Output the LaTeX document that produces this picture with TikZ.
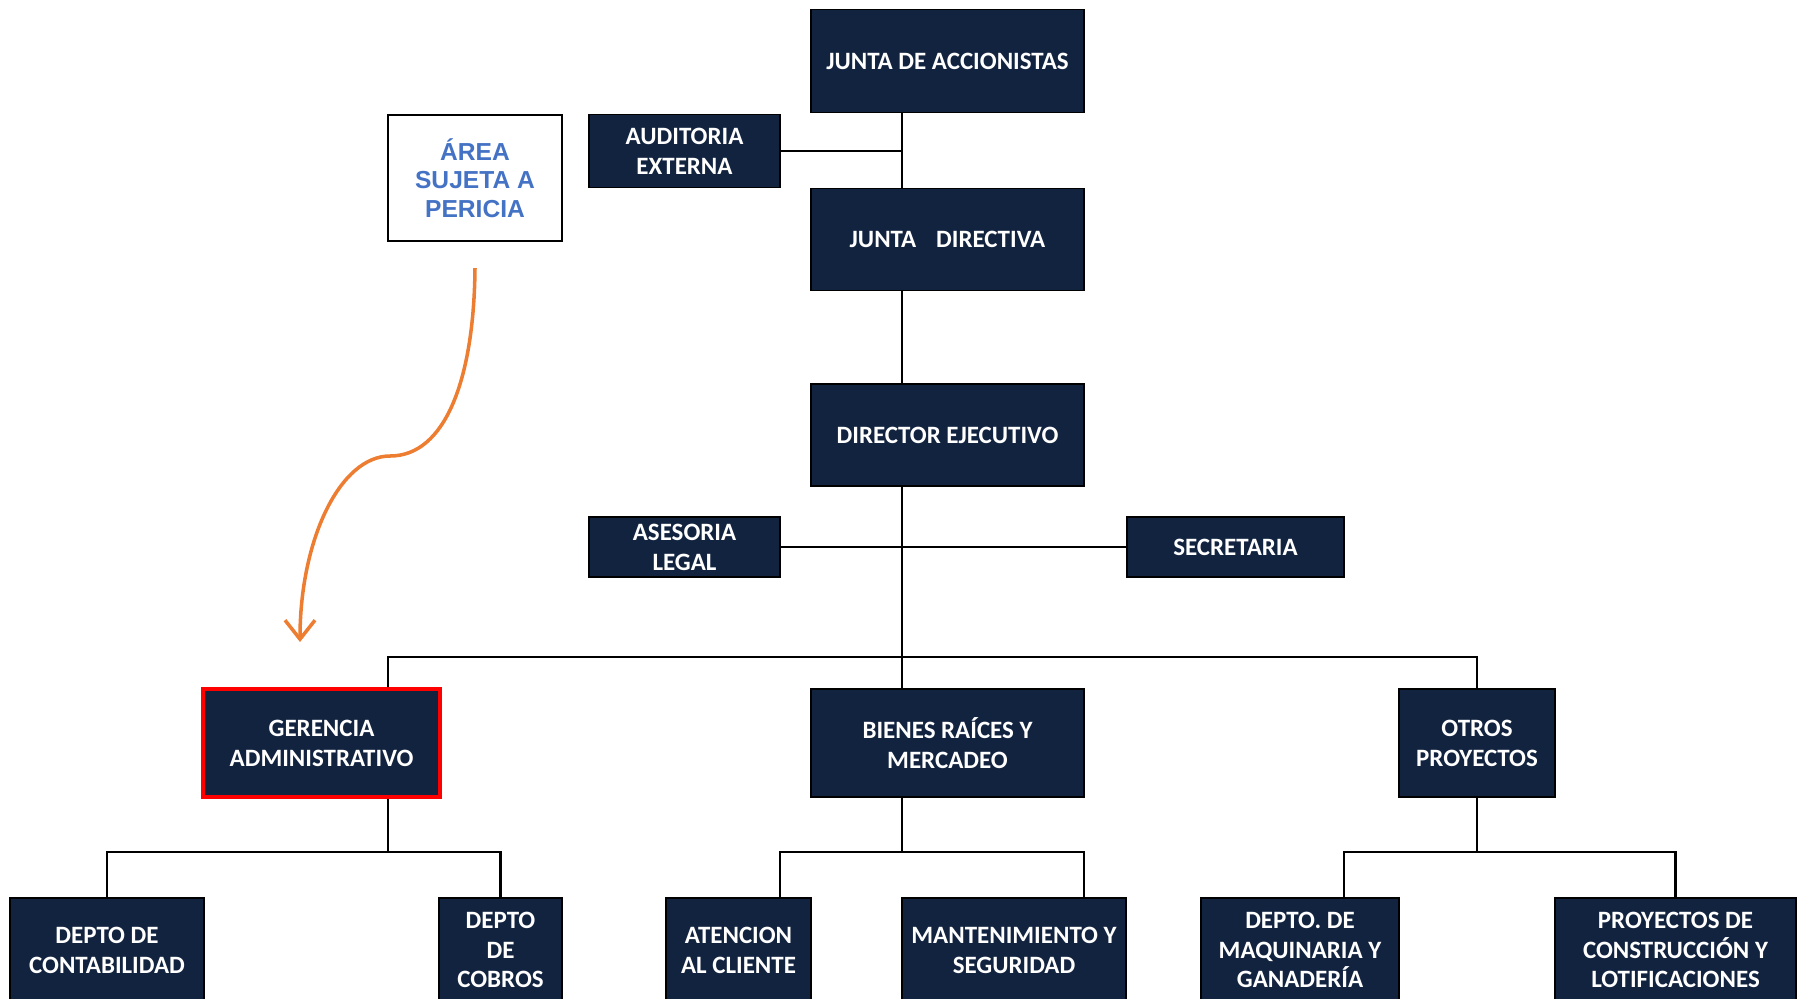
\documentclass[tikz,border=0pt]{standalone}
\usepackage{fontspec}
\setsansfont{Carlito}
\newfontfamily\areafont{Liberation Sans}
\usepackage{xcolor}
\usetikzlibrary{arrows.meta,positioning,calc}
\definecolor{navy}{RGB}{18,35,63}
\definecolor{areablue}{RGB}{68,114,196}
\definecolor{arrorange}{RGB}{237,125,49}

\begin{document}
\begin{tikzpicture}[
    >=Stealth,
    cargo/.style={draw=black, fill=navy, rectangle, inner sep=1pt,
        align=center, text=white,
        font=\fontsize{7.1}{8.5}\selectfont\sffamily\bfseries},
    pericia/.style={draw=black, line width=0.6pt, fill=white, rectangle,
        align=center, text=areablue,
        font=\fontsize{7}{8.1}\selectfont\areafont\bfseries},
    link/.style={draw=black, line width=0.6pt},
    markarrow/.style={-{Straight Barb[length=1.9mm,width=3mm]},
        line width=1pt, color=arrorange}
]
\useasboundingbox (0,0) rectangle (17.98,-9.98);

% upper levels
\node[cargo, minimum width=2.73cm, minimum height=1.03cm] (accionistas) at (9.475,-0.61) {JUNTA DE ACCIONISTAS};
\node[cargo, minimum width=1.91cm, minimum height=0.73cm] (auditoria) at (6.845,-1.51) {AUDITORIA\\EXTERNA};
\node[pericia, minimum width=1.74cm, minimum height=1.26cm] (area) at (4.75,-1.78) {ÁREA\\SUJETA A\\PERICIA};
\node[cargo, minimum width=2.73cm, minimum height=1.02cm] (directiva) at (9.475,-2.395) {JUNTA\hspace{0.8em}DIRECTIVA};
\node[cargo, minimum width=2.73cm, minimum height=1.02cm] (director) at (9.475,-4.35) {DIRECTOR EJECUTIVO};
\node[cargo, minimum width=1.91cm, minimum height=0.60cm] (asesoria) at (6.845,-5.47) {ASESORIA\\LEGAL};
\node[cargo, minimum width=2.17cm, minimum height=0.60cm] (secretaria) at (12.355,-5.47) {SECRETARIA};

% gerencias
\node[cargo, draw=red, line width=1pt, minimum width=2.37cm, minimum height=1.08cm] (gerencia) at (3.215,-7.43) {GERENCIA\\ADMINISTRATIVO};
\node[cargo, minimum width=2.73cm, minimum height=1.08cm] (bienes) at (9.475,-7.43) {BIENES RAÍCES Y\\MERCADEO};
\node[cargo, minimum width=1.56cm, minimum height=1.08cm] (otros) at (14.77,-7.43) {OTROS\\PROYECTOS};

% departamentos
\node[cargo, minimum width=1.94cm, minimum height=1.04cm] (contabilidad) at (1.07,-9.5) {DEPTO DE\\CONTABILIDAD};
\node[cargo, minimum width=1.23cm, minimum height=1.04cm] (cobros) at (5.005,-9.5) {DEPTO\\DE\\COBROS};
\node[cargo, minimum width=1.45cm, minimum height=1.04cm] (atencion) at (7.385,-9.5) {ATENCION\\AL CLIENTE};
\node[cargo, minimum width=2.24cm, minimum height=1.04cm] (mantenimiento) at (10.14,-9.5) {MANTENIMIENTO Y\\SEGURIDAD};
\node[cargo, minimum width=1.98cm, minimum height=1.04cm] (maquinaria) at (13.0,-9.5) {DEPTO. DE\\MAQUINARIA Y\\GANADERÍA};
\node[cargo, minimum width=2.41cm, minimum height=1.04cm] (construccion) at (16.755,-9.5) {PROYECTOS DE\\CONSTRUCCIÓN Y\\LOTIFICACIONES};

% bus points
\coordinate (trunk) at (9.02,-6.57);
\coordinate (busL) at (3.88,-6.57);
\coordinate (busR) at (14.77,-6.57);
\coordinate (gerdrop) at (3.88,-8.52);
\coordinate (atdrop) at (7.80,-8.52);
\coordinate (mantdrop) at (10.84,-8.52);
\coordinate (maqdrop) at (13.44,-8.52);

% connectors
\draw[link] (accionistas.south -| trunk) -- (directiva.north -| trunk);
\draw[link] (auditoria.east) -- (auditoria.east -| trunk);
\draw[link] (directiva.south -| trunk) -- (director.north -| trunk);
\draw[link] (director.south -| trunk) -- (trunk);
\draw[link] (asesoria.east) -- (secretaria.west);
\draw[link] (gerencia.north -| busL) -- (busL) -- (busR) -- (otros.north);
\draw[link] (trunk) -- (bienes.north -| trunk);

\draw[link] (gerencia.south -| gerdrop) -- (gerdrop);
\draw[link] (contabilidad.north) |- (gerdrop) -| (cobros.north);
\draw[link] (bienes.south -| trunk) -- (trunk |- atdrop);
\draw[link] (atencion.north -| atdrop) -- (atdrop) -- (mantdrop) -- (mantenimiento.north -| mantdrop);
\draw[link] (otros.south) -- (otros.south |- maqdrop);
\draw[link] (maquinaria.north -| maqdrop) -- (maqdrop) -| (construccion.north);

% area sujeta a pericia
\coordinate (bend) at (3.90,-4.56);
\coordinate (arrowtip) at (3.00,-6.42);
\draw[markarrow] ([yshift=-0.26cm]area.south) .. controls (4.74,-3.8) and (4.45,-4.56) .. (bend)
    .. controls (3.4,-4.56) and (3.0,-5.4) .. (arrowtip);
\end{tikzpicture}
\end{document}
